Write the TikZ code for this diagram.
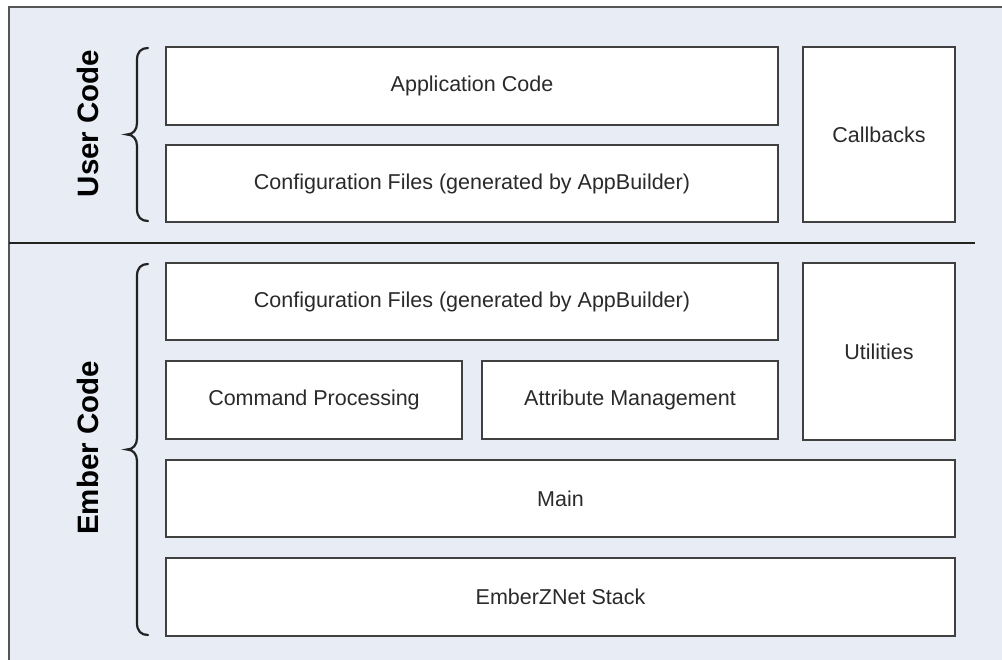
\documentclass[tikz,border=0pt]{standalone}
\usepackage{fontspec}
\setmainfont{Liberation Sans}
\begin{document}
\begin{tikzpicture}[x=1pt,y=-1pt,
  layerbox/.style={draw=boxline, fill=white, line width=2pt, inner sep=0pt,
    font=\fontsize{21.5}{26}\selectfont, text=textcol},
  sidelabel/.style={rotate=90, font=\fontsize{29.5}{34}\selectfont\bfseries, text=black, inner sep=0pt},
  bracepath/.style={draw=braceline, line width=2.2pt, line cap=round}]
\definecolor{bgfill}{HTML}{E8ECF5}
\definecolor{frameline}{HTML}{555555}
\definecolor{boxline}{HTML}{404040}
\definecolor{braceline}{HTML}{222222}
\definecolor{textcol}{HTML}{2A2A2A}
\useasboundingbox (0,0) rectangle (1002,660);
% background frame
\fill[white] (0,0) rectangle (1002,660);
\draw[fill=bgfill, draw=frameline, line width=1.8pt] (9,7) rectangle (1012,672);
% separator
\coordinate (sepL) at (9,243);
\coordinate (sepR) at (975,243);
\draw[line width=2.2pt, draw=braceline] (sepL) -- (sepR);
% boxes
\node[layerbox, minimum width=612pt, minimum height=78pt] (app) at (472,86) {Application Code};
\node[layerbox, minimum width=612pt, minimum height=77pt] (cfgu) at (472,183.5) {Configuration Files (generated by AppBuilder)};
\node[layerbox, minimum width=152pt, minimum height=175pt] (cb) at (879,134.5) {Callbacks};
\node[layerbox, minimum width=612pt, minimum height=77pt] (cfge) at (472,301.5) {Configuration Files (generated by AppBuilder)};
\node[layerbox, minimum width=152pt, minimum height=177pt] (util) at (879,351.5) {Utilities};
\node[layerbox, minimum width=296pt, minimum height=78pt] (cmd) at (314,400) {Command Processing};
\node[layerbox, minimum width=296pt, minimum height=78pt] (attr) at (630,400) {Attribute Management};
\node[layerbox, minimum width=789pt, minimum height=77pt] (main) at (560.5,498.5) {Main};
\node[layerbox, minimum width=789pt, minimum height=78pt] (stack) at (560.5,597) {EmberZNet Stack};
% braces
\draw[bracepath] (148,48) .. controls (141,48) and (137,52) .. (137,60) -- (137,123)
  .. controls (137,130) and (133,134.5) .. (127,134.5)
  .. controls (133,134.5) and (137,139) .. (137,146) -- (137,209)
  .. controls (137,217) and (141,221) .. (148,221);
\draw[bracepath] (148,264) .. controls (141,264) and (137,268) .. (137,276) -- (137,438)
  .. controls (137,445) and (133,449.5) .. (127,449.5)
  .. controls (133,449.5) and (137,454) .. (137,461) -- (137,623)
  .. controls (137,631) and (141,635) .. (148,635);
% labels
\node[sidelabel] (ulabel) at (88,123.5) {User Code};
\node[sidelabel] (elabel) at (88,448) {Ember Code};
\end{tikzpicture}
\end{document}
